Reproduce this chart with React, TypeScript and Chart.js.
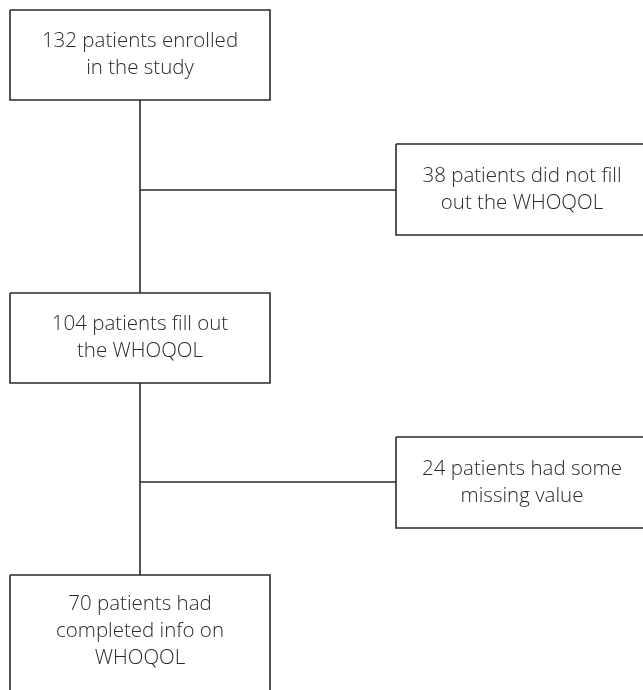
import React, { useEffect, useRef } from "react";
import { Chart, registerables } from "chart.js";

Chart.register(...registerables);

// Flowchart content
const boxLines: string[][] = [
  ["132 patients enrolled", "in the study"],
  ["38 patients did not fill", "out the WHOQOL"],
  ["104 patients fill out", "the WHOQOL"],
  ["24 patients had some", "missing value"],
  ["70 patients had", "completed info on", "WHOQOL"],
];
// Box extents in diagram units
const boxLeft = [10, 396, 10, 396, 10];
const boxRight = [270, 648, 270, 648, 270];
const boxTop = [10, 144, 293, 437, 575];
const boxBottom = [100, 235, 383, 528, 696];

// Connectors: [x1, y1, x2, y2]
const connFromX = [140, 140, 140, 140];
const connFromY = [100, 190, 383, 482];
const connToX = [140, 396, 140, 396];
const connToY = [293, 190, 575, 482];

const W = 643;
const H = 690;
const INK = "#2a2a2a";
const FONT = "'Open Sans', 'DejaVu Sans', sans-serif";

export default function App() {
  const ref = useRef<HTMLCanvasElement | null>(null);

  useEffect(() => {
    if (!ref.current) return;
    const boxSets = boxLines.map((_, i) => ({
      type: "line" as const,
      data: [
        { x: boxLeft[i], y: boxTop[i] },
        { x: boxRight[i], y: boxTop[i] },
        { x: boxRight[i], y: boxBottom[i] },
        { x: boxLeft[i], y: boxBottom[i] },
        { x: boxLeft[i], y: boxTop[i] },
      ],
      borderColor: INK,
      borderWidth: 1.6,
      pointRadius: 0,
      fill: false,
      tension: 0,
      clip: false as any,
    }));
    const connSets = connFromX.map((_, i) => ({
      type: "line" as const,
      data: [
        { x: connFromX[i], y: connFromY[i] },
        { x: connToX[i], y: connToY[i] },
      ],
      borderColor: INK,
      borderWidth: 1.6,
      pointRadius: 0,
      fill: false,
      tension: 0,
      clip: false as any,
    }));

    const textPlugin = {
      id: "boxText",
      afterDatasetsDraw(chart: any) {
        const ctx = chart.ctx;
        const xs = chart.scales.x;
        const ys = chart.scales.y;
        ctx.save();
        ctx.fillStyle = INK;
        ctx.font = `300 20.5px ${FONT}`;
        ctx.textAlign = "center";
        ctx.textBaseline = "middle";
        const lh = 27;
        boxLines.forEach((lines, i) => {
          const cx = (xs.getPixelForValue(boxLeft[i]) + xs.getPixelForValue(boxRight[i])) / 2;
          const bottom = Math.min(boxBottom[i], 687);
          const cy = (ys.getPixelForValue(boxTop[i]) + ys.getPixelForValue(bottom)) / 2;
          const start = cy - ((lines.length - 1) * lh) / 2;
          lines.forEach((t, j) => ctx.fillText(t, cx, start + j * lh));
        });
        ctx.restore();
      },
    };

    const chart = new Chart(ref.current, {
      type: "scatter",
      data: { datasets: [...boxSets, ...connSets] as any },
      options: {
        animation: false,
        responsive: false,
        maintainAspectRatio: false,
        layout: { padding: 0 },
        plugins: { legend: { display: false }, tooltip: { enabled: false } },
        events: [],
        scales: {
          x: { type: "linear", min: 0, max: W, display: false },
          y: { type: "linear", min: 0, max: H, reverse: true, display: false },
        },
      },
      plugins: [textPlugin],
    });
    return () => chart.destroy();
  }, []);

  return (
    <div style={{ position: "fixed", left: 0, top: 0, width: W, height: H, background: "#fff" }}>
      <canvas ref={ref} width={W} height={H} style={{ width: W, height: H, display: "block" }} />
    </div>
  );
}
